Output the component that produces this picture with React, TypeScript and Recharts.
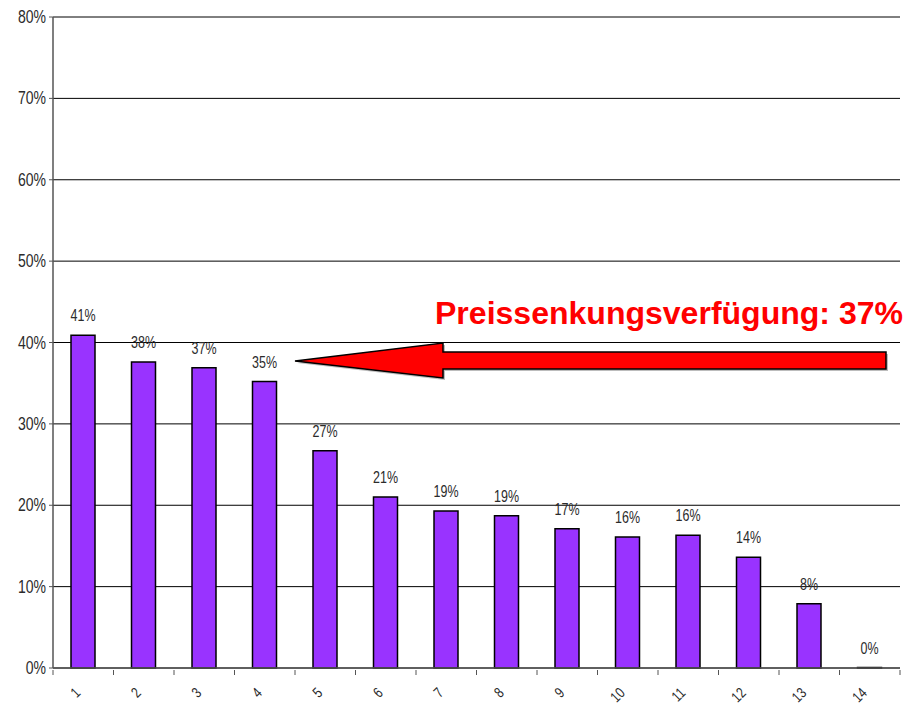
import { BarChart, Bar, XAxis, YAxis, CartesianGrid, LabelList, Customized } from 'recharts';

// share of respondents per rank, in percent
const ranks = ['1', '2', '3', '4', '5', '6', '7', '8', '9', '10', '11', '12', '13', '14'];
const shares = [40.9, 37.6, 36.9, 35.2, 26.7, 21.0, 19.3, 18.7, 17.1, 16.1, 16.3, 13.6, 7.9, 0];
const yTicks = [0, 10, 20, 30, 40, 50, 60, 70, 80];
const calloutText = 'Preissenkungsverfügung: 37%';

const data = ranks.map((rank, i) => ({ rank, share: shares[i] }));

const FONT = '"Liberation Sans", Arial, sans-serif';
const BAND = 60.5;

// Arial Narrow is not available, so squeeze Liberation Sans horizontally
const NarrowText = ({ x, y, anchor, size, rotate = 0, children }: any) => (
  <g transform={`translate(${x} ${y}) rotate(${rotate}) scale(0.78 1)`}>
    <text x={0} y={0} textAnchor={anchor} fontSize={size} fontFamily={FONT} fill="#2b2b2b">
      {children}
    </text>
  </g>
);

const XTick = (props: any) => {
  const { x, y, payload, index } = props;
  const isLast = index === ranks.length - 1;
  return (
    <g>
      <line x1={x - BAND / 2} y1={y} x2={x - BAND / 2} y2={y + 5} stroke="#555" />
      {isLast && <line x1={x + BAND / 2} y1={y} x2={x + BAND / 2} y2={y + 5} stroke="#555" />}
      <NarrowText x={x - 2} y={y + 24} anchor="end" size={15} rotate={-45}>
        {payload.value}
      </NarrowText>
    </g>
  );
};

const YTick = (props: any) => {
  const { x, y, payload } = props;
  return (
    <NarrowText x={x - 1} y={y + 6} anchor="end" size={18}>
      {`${payload.value}%`}
    </NarrowText>
  );
};

const BarLabel = (props: any) => {
  const { x, y, width, value } = props;
  return (
    <NarrowText x={x + width / 2} y={y - 14} anchor="middle" size={16}>
      {`${Math.round(Number(value))}%`}
    </NarrowText>
  );
};

const Callout = () => (
  <g>
    <polygon
      points="297,363 445,345 445,354 888,354 888,371 445,371 445,380"
      fill="#7a7a7a"
      opacity={0.5}
    />
    <polygon
      points="295,361 443,343 443,352 886,352 886,369 443,369 443,378"
      fill="#FF0000"
      stroke="#000"
      strokeWidth={1.5}
    />
    <text
      x={435}
      y={324}
      textLength={468}
      lengthAdjust="spacingAndGlyphs"
      fontSize={31}
      fontWeight="bold"
      fontFamily={FONT}
      fill="#FF0000"
    >
      {calloutText}
    </text>
  </g>
);

export default function App() {
  return (
    <div style={{ position: 'absolute', left: 0, top: 0, background: '#fff' }}>
      <BarChart
        width={920}
        height={707}
        data={data}
        margin={{ top: 17, right: 20, left: 0, bottom: 0 }}
        barSize={24}
      >
        <CartesianGrid vertical={false} stroke="#000" strokeWidth={1} />
        <XAxis
          dataKey="rank"
          height={39}
          tickLine={false}
          tickSize={0}
          axisLine={{ stroke: '#555', strokeWidth: 1.5 }}
          tick={<XTick />}
          interval={0}
        />
        <YAxis
          width={53}
          domain={[0, 80]}
          ticks={yTicks}
          tickSize={4}
          tickLine={{ stroke: '#555' }}
          axisLine={{ stroke: '#555', strokeWidth: 1.5 }}
          tick={<YTick />}
        />
        <YAxis
          yAxisId="frame"
          orientation="right"
          width={0}
          tick={false}
          tickLine={false}
          axisLine={{ stroke: '#999' }}
        />
        <Bar
          dataKey="share"
          fill="#9933FF"
          stroke="#000"
          strokeWidth={1.5}
          minPointSize={0.5}
          isAnimationActive={false}
        >
          <LabelList dataKey="share" content={<BarLabel />} />
        </Bar>
        <Customized component={Callout} />
      </BarChart>
    </div>
  );
}
